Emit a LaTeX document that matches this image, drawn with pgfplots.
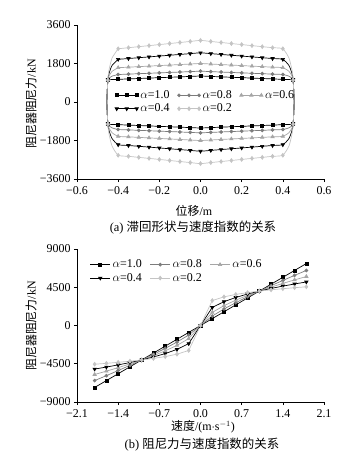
\documentclass[border=0pt]{standalone}
\usepackage{pgfplots}
\pgfplotsset{compat=1.18}
\usepackage{fontspec}
\setmainfont{Liberation Serif}
\newfontfamily\cjk{Noto Sans CJK SC}
\definecolor{gA}{HTML}{7C7C7C}
\definecolor{gB}{HTML}{A6A6A6}
\definecolor{gC}{HTML}{C4C4C4}
\pgfplotsset{
  myaxis/.style={
    scale only axis, width=247bp,
    axis x line=bottom, axis y line=left,
    axis line style={-, black, line width=0.6pt},
    every tick/.style={black, line width=0.6pt},
    tick align=outside, major tick length=3bp,
    tick label style={font=\fontsize{12}{14}\selectfont},
    xticklabel style={yshift=-1bp},
    legend style={draw=none, fill=none, font=\fontsize{12}{13}\selectfont, inner sep=0pt, outer sep=0pt,
      /tikz/every even column/.append style={column sep=6bp}},
    legend columns=3, legend cell align=left,
    legend image code/.code={\draw[mark repeat=2,mark phase=2] plot coordinates {(0bp,0bp)(10bp,0bp)(20bp,0bp)};},
  },
  s1/.style={black, line width=0.7pt, mark=square*, mark size=1.5pt, mark options={solid, fill=black}},
  s2/.style={gA, line width=0.7pt, mark=*, mark size=1.5pt, mark options={solid, fill=gA}},
  s3/.style={gB, line width=0.7pt, mark=triangle*, mark size=1.9pt, mark options={solid, fill=gB}},
  s4/.style={black, line width=0.7pt, mark=triangle*, mark size=1.9pt, mark options={solid, fill=black, rotate=180}},
  s5/.style={gC, line width=0.7pt, mark=diamond*, mark size=1.9pt, mark options={solid, fill=gC}},
  loopmarks/.style={mark indices={1,2,3,4,5,6,7,8,9,10,11,12,13,14,15,16,17,20,22,25,26,27,28,29,30,31,32,33,34,35,36,37,38,39,40,41,44,46}},
}
\begin{document}
\begin{tikzpicture}
\path[use as bounding box] (0,0) rectangle (359bp,-455bp);
% ---------------- (a) ----------------
\begin{axis}[myaxis, at={(77bp,-179bp)}, anchor=south west, height=154bp,
  xmin=-0.6, xmax=0.6, ymin=-3600, ymax=3600,
  xtick={-0.6,-0.4,-0.2,0,0.2,0.4,0.6},
  xticklabels={−0.6,−0.4,−0.2,0.0,0.2,0.4,0.6},
  ytick={-3600,-1800,0,1800,3600},
  yticklabels={−3600,−1800,0,1800,3600},
  legend style={at={(axis cs:-0.415,0)}, anchor=west},
  smooth, tension=0.35]
\addplot[s1, loopmarks] coordinates {
(-0.40,1060)(-0.35,1079)(-0.30,1099)(-0.25,1118)(-0.20,1138)(-0.15,1157)(-0.10,1176)(-0.05,1196)(0.00,1215)
(0.05,1196)(0.10,1176)(0.15,1157)(0.20,1138)(0.25,1118)(0.30,1099)(0.35,1079)(0.40,1060)
(0.43,1051)(0.445,1039)(0.45,1030)(0.455,0)(0.45,-1030)(0.445,-1039)(0.43,-1051)
(0.40,-1060)(0.35,-1079)(0.30,-1099)(0.25,-1118)(0.20,-1138)(0.15,-1157)(0.10,-1176)(0.05,-1196)(0.00,-1215)
(-0.05,-1196)(-0.10,-1176)(-0.15,-1157)(-0.20,-1138)(-0.25,-1118)(-0.30,-1099)(-0.35,-1079)(-0.40,-1060)
(-0.43,-1051)(-0.445,-1039)(-0.45,-1030)(-0.455,0)(-0.45,1030)(-0.445,1039)(-0.43,1051)(-0.40,1060)};
\addlegendentry{$\alpha$=1.0}
\addplot[s2, loopmarks] coordinates {
(-0.40,1285)(-0.35,1304)(-0.30,1324)(-0.25,1343)(-0.20,1363)(-0.15,1382)(-0.10,1401)(-0.05,1421)(0.00,1440)
(0.05,1421)(0.10,1401)(0.15,1382)(0.20,1363)(0.25,1343)(0.30,1324)(0.35,1304)(0.40,1285)
(0.43,1209)(0.445,1106)(0.45,1030)(0.455,0)(0.45,-1030)(0.445,-1106)(0.43,-1209)
(0.40,-1285)(0.35,-1304)(0.30,-1324)(0.25,-1343)(0.20,-1363)(0.15,-1382)(0.10,-1401)(0.05,-1421)(0.00,-1440)
(-0.05,-1421)(-0.10,-1401)(-0.15,-1382)(-0.20,-1363)(-0.25,-1343)(-0.30,-1324)(-0.35,-1304)(-0.40,-1285)
(-0.43,-1209)(-0.445,-1106)(-0.45,-1030)(-0.455,0)(-0.45,1030)(-0.445,1106)(-0.43,1209)(-0.40,1285)};
\addlegendentry{$\alpha$=0.8}
\addplot[s3, loopmarks] coordinates {
(-0.40,1605)(-0.35,1629)(-0.30,1654)(-0.25,1678)(-0.20,1703)(-0.15,1727)(-0.10,1751)(-0.05,1776)(0.00,1800)
(0.05,1776)(0.10,1751)(0.15,1727)(0.20,1703)(0.25,1678)(0.30,1654)(0.35,1629)(0.40,1605)
(0.43,1432)(0.445,1202)(0.45,1030)(0.455,0)(0.45,-1030)(0.445,-1202)(0.43,-1432)
(0.40,-1605)(0.35,-1629)(0.30,-1654)(0.25,-1678)(0.20,-1703)(0.15,-1727)(0.10,-1751)(0.05,-1776)(0.00,-1800)
(-0.05,-1776)(-0.10,-1751)(-0.15,-1727)(-0.20,-1703)(-0.25,-1678)(-0.30,-1654)(-0.35,-1629)(-0.40,-1605)
(-0.43,-1432)(-0.445,-1202)(-0.45,-1030)(-0.455,0)(-0.45,1030)(-0.445,1202)(-0.43,1432)(-0.40,1605)};
\addlegendentry{$\alpha$=0.6}
\addplot[s4, loopmarks] coordinates {
(-0.40,1995)(-0.35,2033)(-0.30,2071)(-0.25,2109)(-0.20,2148)(-0.15,2186)(-0.10,2224)(-0.05,2262)(0.00,2300)
(0.05,2262)(0.10,2224)(0.15,2186)(0.20,2148)(0.25,2109)(0.30,2071)(0.35,2033)(0.40,1995)
(0.43,1705)(0.445,1319)(0.45,1030)(0.455,0)(0.45,-1030)(0.445,-1319)(0.43,-1705)
(0.40,-1995)(0.35,-2033)(0.30,-2071)(0.25,-2109)(0.20,-2148)(0.15,-2186)(0.10,-2224)(0.05,-2262)(0.00,-2300)
(-0.05,-2262)(-0.10,-2224)(-0.15,-2186)(-0.20,-2148)(-0.25,-2109)(-0.30,-2071)(-0.35,-2033)(-0.40,-1995)
(-0.43,-1705)(-0.445,-1319)(-0.45,-1030)(-0.455,0)(-0.45,1030)(-0.445,1319)(-0.43,1705)(-0.40,1995)};
\addlegendentry{$\alpha$=0.4}
\addplot[s5, loopmarks] coordinates {
(-0.40,2490)(-0.35,2539)(-0.30,2588)(-0.25,2636)(-0.20,2685)(-0.15,2734)(-0.10,2783)(-0.05,2831)(0.00,2880)
(0.05,2831)(0.10,2783)(0.15,2734)(0.20,2685)(0.25,2636)(0.30,2588)(0.35,2539)(0.40,2490)
(0.43,2052)(0.445,1468)(0.45,1030)(0.455,0)(0.45,-1030)(0.445,-1468)(0.43,-2052)
(0.40,-2490)(0.35,-2539)(0.30,-2588)(0.25,-2636)(0.20,-2685)(0.15,-2734)(0.10,-2783)(0.05,-2831)(0.00,-2880)
(-0.05,-2831)(-0.10,-2783)(-0.15,-2734)(-0.20,-2685)(-0.25,-2636)(-0.30,-2588)(-0.35,-2539)(-0.40,-2490)
(-0.43,-2052)(-0.445,-1468)(-0.45,-1030)(-0.455,0)(-0.45,1030)(-0.445,1468)(-0.43,2052)(-0.40,2490)};
\addlegendentry{$\alpha$=0.2}
\end{axis}
% ---------------- (b) ----------------
\begin{axis}[myaxis, at={(77bp,-402bp)}, anchor=south west, height=153bp,
  xmin=-2.1, xmax=2.1, ymin=-9000, ymax=9000,
  xtick={-2.1,-1.4,-0.7,0,0.7,1.4,2.1},
  xticklabels={−2.1,−1.4,−0.7,0.0,0.7,1.4,2.1},
  ytick={-9000,-4500,0,4500,9000},
  yticklabels={−9000,−4500,0,4500,9000},
  legend style={at={(axis cs:-1.88,7950)}, anchor=north west}]
\addplot[s1] coordinates {(-1.8,-7290)(-1.6,-6480)(-1.4,-5670)(-1.2,-4860)(-1.0,-4050)(-0.8,-3240)(-0.6,-2430)(-0.4,-1620)(-0.2,-810)(0,0)(0.2,810)(0.4,1620)(0.6,2430)(0.8,3240)(1.0,4050)(1.2,4860)(1.4,5670)(1.6,6480)(1.8,7290)};
\addlegendentry{$\alpha$=1.0}
\addplot[s2] coordinates {(-1.8,-6481)(-1.6,-5899)(-1.4,-5301)(-1.2,-4686)(-1.0,-4050)(-0.8,-3388)(-0.6,-2691)(-0.4,-1946)(-0.2,-1117)(0,0)(0.2,1117)(0.4,1946)(0.6,2691)(0.8,3388)(1.0,4050)(1.2,4686)(1.4,5301)(1.6,5899)(1.8,6481)};
\addlegendentry{$\alpha$=0.8}
\addplot[s3] coordinates {(-1.8,-5763)(-1.6,-5369)(-1.4,-4956)(-1.2,-4518)(-1.0,-4050)(-0.8,-3543)(-0.6,-2981)(-0.4,-2337)(-0.2,-1542)(0,0)(0.2,1542)(0.4,2337)(0.6,2981)(0.8,3543)(1.0,4050)(1.2,4518)(1.4,4956)(1.6,5369)(1.8,5763)};
\addlegendentry{$\alpha$=0.6}
\addplot[s4] coordinates {(-1.8,-5124)(-1.6,-4888)(-1.4,-4634)(-1.2,-4357)(-1.0,-4050)(-0.8,-3704)(-0.6,-3302)(-0.4,-2807)(-0.2,-2127)(0,0)(0.2,2127)(0.4,2807)(0.6,3302)(0.8,3704)(1.0,4050)(1.2,4357)(1.4,4634)(1.6,4888)(1.8,5124)};
\addlegendentry{$\alpha$=0.4}
\addplot[s5] coordinates {(-1.8,-4555)(-1.6,-4449)(-1.4,-4332)(-1.2,-4200)(-1.0,-4050)(-0.8,-3873)(-0.6,-3657)(-0.4,-3372)(-0.2,-2935)(0,0)(0.2,2935)(0.4,3372)(0.6,3657)(0.8,3873)(1.0,4050)(1.2,4200)(1.4,4332)(1.6,4449)(1.8,4555)};
\addlegendentry{$\alpha$=0.2}
\end{axis}
% labels
\node[rotate=90, font=\fontsize{12}{14}\selectfont] at (31bp,-104bp) {{\cjk 阻尼器阻尼力}/kN};
\node[rotate=90, font=\fontsize{12}{14}\selectfont] at (31bp,-326bp) {{\cjk 阻尼器阻尼力}/kN};
\node[font=\fontsize{12}{14}\selectfont] at (194bp,-211bp) {{\cjk 位移}/m};
\node[font=\fontsize{12.5}{14}\selectfont] at (193bp,-228bp) {(a) {\cjk 滞回形状与速度指数的关系}};
\node[font=\fontsize{12}{14}\selectfont] at (203bp,-427bp) {{\cjk 速度}/(m$\cdot$s$^{-1}$)};
\node[font=\fontsize{12.5}{14}\selectfont] at (202bp,-445bp) {(b) {\cjk 阻尼力与速度指数的关系}};
\end{tikzpicture}
\end{document}
